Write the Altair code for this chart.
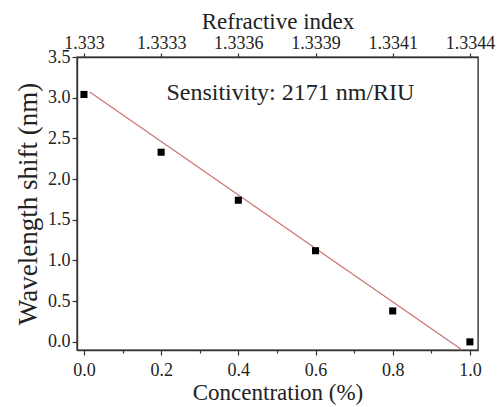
import altair as alt
import pandas as pd

# ---- data ----
conc = [0.0, 0.2, 0.4, 0.6, 0.8, 1.0]
shift = [3.04, 2.33, 1.74, 1.12, 0.38, 0.0]
ri_labels = ["1.333", "1.3333", "1.3336", "1.3339", "1.3341", "1.3344"]
fit_x = [0.015, 0.98]
fit_y = [3.07, -0.10]
annot = ["Sensitivity: 2171 nm/RIU"]
annot_x = [0.535]
annot_y = [3.06]
x_ticks = [0.0, 0.1, 0.2, 0.3, 0.4, 0.5, 0.6, 0.7, 0.8, 0.9, 1.0]
x_major = [0.0, 0.2, 0.4, 0.6, 0.8, 1.0]
y_ticks = [0.0, 0.25, 0.5, 0.75, 1.0, 1.25, 1.5, 1.75, 2.0, 2.25, 2.5, 2.75, 3.0, 3.25, 3.5]

FONT = "Times New Roman, Liberation Serif, serif"
XDOM = [-0.018, 1.021]
YDOM = [-0.1, 3.5]
DARK = "#333333"

pts = pd.DataFrame({"c": conc, "s": shift})
fit = pd.DataFrame({"c": fit_x, "s": fit_y})
txt = pd.DataFrame({"c": annot_x, "s": annot_y, "t": annot})

xscale = alt.Scale(domain=XDOM, nice=False, zero=False)
yscale = alt.Scale(domain=YDOM, nice=False, zero=False)

x_bottom = alt.Axis(
    title="Concentration (%)",
    values=x_ticks,
    labelExpr="abs(round(datum.value*5)-datum.value*5) < 0.001 ? format(datum.value, '.1f') : ''",
    tickSize={"condition": {"test": "abs(round(datum.value*5)-datum.value*5) < 0.001", "value": 5}, "value": 3},
    labelOverlap=False, labelFlush=False,
    labelFont=FONT, labelFontSize=18, labelPadding=6,
    titleFont=FONT, titleFontSize=23, titleFontWeight="normal", titlePadding=2,
    grid=False,
)
y_left = alt.Axis(
    title="Wavelength shift (nm)",
    values=y_ticks,
    labelExpr="abs(round(datum.value*2)-datum.value*2) < 0.001 ? format(datum.value, '.1f') : ''",
    tickSize={"condition": {"test": "abs(round(datum.value*2)-datum.value*2) < 0.001", "value": 5}, "value": 3},
    labelOverlap=False, labelFlush=False,
    labelFont=FONT, labelFontSize=18, labelPadding=2,
    titleFont=FONT, titleFontSize=27, titleFontWeight="normal", titlePadding=5,
    grid=False,
)
labels_js = "[" + ",".join("'" + s + "'" for s in ri_labels) + "]"
x_top = alt.Axis(
    orient="top",
    title="Refractive index",
    values=x_major,
    labelExpr=labels_js + "[round(datum.value*5)]",
    tickSize=4,
    labelOverlap=False, labelFlush=False,
    labelFont=FONT, labelFontSize=18, labelPadding=1,
    titleFont=FONT, titleFontSize=23, titleFontWeight="normal", titlePadding=1,
    grid=False,
)

points = alt.Chart(pts).mark_square(size=50, color="black", opacity=1).encode(
    x=alt.X("c:Q", scale=xscale, axis=x_bottom),
    y=alt.Y("s:Q", scale=yscale, axis=y_left),
)
line = alt.Chart(fit).mark_line(color="#cc6f6f", strokeWidth=1.1).encode(
    x=alt.X("c:Q", scale=xscale, axis=None),
    y=alt.Y("s:Q", scale=yscale),
)
top = alt.Chart(pts).mark_square(opacity=0).encode(
    x=alt.X("c:Q", scale=xscale, axis=x_top),
    y=alt.Y("s:Q", scale=yscale),
)
label = alt.Chart(txt).mark_text(font=FONT, fontSize=24, color="#222222", align="center", baseline="middle").encode(
    x=alt.X("c:Q", scale=xscale, axis=None),
    y=alt.Y("s:Q", scale=yscale),
    text="t:N",
)

chart = alt.layer(line, points, top, label).resolve_scale(x="independent").properties(
    width=401, height=293,
    padding={"left": 77, "top": 57, "right": 20, "bottom": 57},
    autosize=alt.AutoSizeParams(type="none"),
    background="white",
).configure_view(stroke=DARK, strokeWidth=1.4).configure_axis(
    domainColor=DARK, domainWidth=1.4, tickColor=DARK, tickWidth=1.2,
    labelColor="#222222", titleColor="#222222",
)

chart.save("out.html", embed_options={"renderer": "svg", "actions": False})
